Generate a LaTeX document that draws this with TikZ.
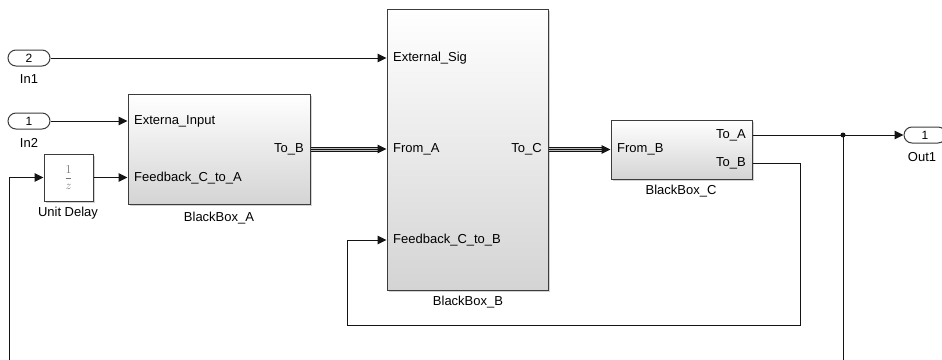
\documentclass[tikz,border=0pt]{standalone}
\usepackage{fontspec}
\setmainfont{Liberation Sans}
\usepackage{tikz}
\usetikzlibrary{arrows.meta,positioning,calc,shadows}
\definecolor{cEdge}{RGB}{60,60,60}
\definecolor{cLine}{RGB}{20,20,20}
\definecolor{cShade}{RGB}{212,212,212}
\newcommand{\sz}{\fontsize{13}{15}\selectfont}

\begin{document}
\begin{tikzpicture}[x=1pt, y=-1pt,
  blk/.style={draw=cEdge, line width=1pt, top color=white, bottom color=cShade, inner sep=0pt,
    drop shadow={opacity=0.35, shadow xshift=1.5pt, shadow yshift=-1.5pt}},
  udbox/.style={draw=cEdge, line width=1pt, fill=white, inner sep=0pt, text=black!55,
    drop shadow={opacity=0.35, shadow xshift=1.5pt, shadow yshift=-1.5pt}},
  port/.style={font=\sz, inner sep=0pt},
  lbl/.style={font=\sz, inner sep=0pt},
  pill/.style={draw=cEdge, line width=1pt, rounded corners=8pt, minimum width=42pt, minimum height=16pt,
    fill=white, inner sep=0pt, font=\fontsize{12}{14}\selectfont},
  dot/.style={circle, fill=cLine, inner sep=0pt, minimum size=5pt},
  sig/.style={draw=cLine, line width=1pt, -{Triangle[length=9pt,width=8.5pt]}},
  bus/.style={draw=cLine, line width=1pt, double=gray!55, double distance=3pt, shorten >=7pt}]
\useasboundingbox (0,0) rectangle (942,359);
\clip (0,0) rectangle (942,359);
% inports and outport
\node[pill] (in1) at (29,58) {2};
\node[lbl] (in1lbl) at (29,79) {In1};
\node[pill] (in2) at (29,121) {1};
\node[lbl] (in2lbl) at (29,143) {In2};
\node[pill] (out1) at (925,135) {1};
\node[lbl] (out1lbl) at (922,157) {Out1};
% blocks
\node[udbox, minimum width=49pt, minimum height=47pt] (ud) at (68.5,177.5) {\fontsize{12}{14}\selectfont$\displaystyle\frac{1}{z}$};
\node[lbl] (udlbl) at (68,213) {Unit Delay};
\node[blk, minimum width=182pt, minimum height=110pt] (bbA) at (219,149) {};
\node[lbl] (bbAlbl) at (219,218) {BlackBox\_A};
\node[blk, minimum width=161pt, minimum height=281pt] (bbB) at (467.5,149.5) {};
\node[lbl] (bbBlbl) at (468,302) {BlackBox\_B};
\node[blk, minimum width=141pt, minimum height=59pt] (bbC) at (681.5,149.5) {};
\node[lbl] (bbClbl) at (681,191) {BlackBox\_C};
% port labels
\node[port, anchor=west] (aIn1) at (134,121) {Externa\_Input};
\node[port, anchor=west] (aIn2) at (134,178) {Feedback\_C\_to\_A};
\node[port, anchor=east] (aOut) at (304,149) {To\_B};
\node[port, anchor=west] (bIn1) at (393,58) {External\_Sig};
\node[port, anchor=west] (bIn2) at (393,149) {From\_A};
\node[port, anchor=west] (bIn3) at (393,240) {Feedback\_C\_to\_B};
\node[port, anchor=east] (bOut) at (542,149) {To\_C};
\node[port, anchor=west] (cIn) at (617,149) {From\_B};
\node[port, anchor=east] (cOut1) at (746,135) {To\_A};
\node[port, anchor=east] (cOut2) at (746,163) {To\_B};
% signals
\draw[sig] (in1) -- (bbB.west |- in1);
\draw[sig] (in2) -- (bbA.west |- in2);
\draw[sig] (ud) -- (bbA.west |- ud);
\foreach \s/\t in {bbA.east/bbB.west |- bbA.east, bbB.east |- bbC.west/bbC.west}{
  \draw[bus] (\s) -- (\t);
  \draw[sig] (\s) -- (\t);}
\node[dot] (jn) at (843,135) {};
\draw[sig] (bbC.east |- out1) -- (out1);
\coordinate (lowL) at (9,372);
\draw[sig] (jn.center) |- (lowL) |- (ud);
\coordinate (loopR) at (800,325);
\coordinate (loopL) at (347,240);
\draw[sig] (bbC.east |- cOut2) -| (loopR) -| (loopL) -- (bbB.west |- loopL);
\end{tikzpicture}
\end{document}
